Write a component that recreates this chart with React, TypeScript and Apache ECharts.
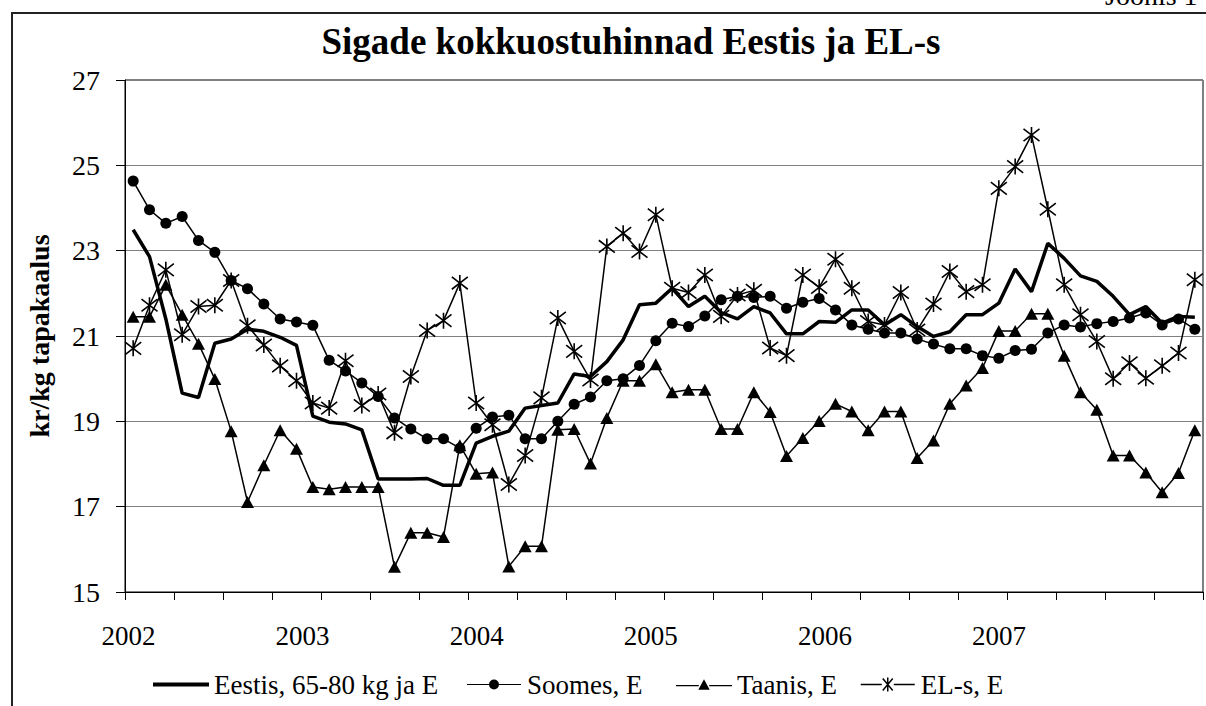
import React, { useEffect, useRef } from "react";
import * as echarts from "echarts";

const monthNames = ["01", "02", "03", "04", "05", "06", "07", "08", "09", "10", "11", "12"];
const years = [2002, 2003, 2004, 2005, 2006, 2007];
const categories = years.flatMap((y) => monthNames.map((m) => `${y}-${m}`)).slice(0, 66);

const yTicks = [15, 17, 19, 21, 23, 25, 27];

const eestis = [23.49, 22.86, 21.4, 19.66, 19.56, 20.83, 20.93, 21.16, 21.11, 20.97, 20.78, 19.12, 18.98, 18.94, 18.8, 17.65, 17.65, 17.65, 17.66, 17.5, 17.5, 18.49, 18.65, 18.77, 19.31, 19.37, 19.43, 20.11, 20.05, 20.4, 20.91, 21.73, 21.77, 22.12, 21.69, 21.93, 21.55, 21.4, 21.69, 21.54, 21.05, 21.05, 21.34, 21.32, 21.61, 21.61, 21.26, 21.5, 21.22, 20.99, 21.1, 21.5, 21.5, 21.77, 22.57, 22.04, 23.17, 22.82, 22.41, 22.28, 21.93, 21.5, 21.69, 21.3, 21.46, 21.44];
const soomes = [24.63, 23.96, 23.64, 23.8, 23.24, 22.96, 22.3, 22.11, 21.75, 21.4, 21.33, 21.25, 20.43, 20.18, 19.9, 19.58, 19.08, 18.82, 18.59, 18.59, 18.37, 18.84, 19.1, 19.14, 18.59, 18.59, 19.0, 19.4, 19.57, 19.95, 20.0, 20.31, 20.89, 21.3, 21.22, 21.47, 21.85, 21.93, 21.9, 21.93, 21.65, 21.79, 21.88, 21.61, 21.26, 21.16, 21.07, 21.07, 20.93, 20.81, 20.7, 20.7, 20.54, 20.48, 20.66, 20.69, 21.07, 21.26, 21.21, 21.29, 21.34, 21.42, 21.54, 21.26, 21.4, 21.16];
const taanis = [21.45, 21.45, 22.2, 21.5, 20.82, 19.99, 18.77, 17.11, 17.97, 18.79, 18.36, 17.46, 17.41, 17.46, 17.46, 17.46, 15.59, 16.39, 16.39, 16.29, 18.44, 17.77, 17.8, 15.6, 16.07, 16.07, 18.8, 18.82, 18.01, 19.08, 19.95, 19.95, 20.34, 19.68, 19.74, 19.74, 18.82, 18.82, 19.68, 19.22, 18.19, 18.61, 19.01, 19.41, 19.23, 18.79, 19.23, 19.23, 18.14, 18.55, 19.41, 19.84, 20.25, 21.12, 21.12, 21.52, 21.52, 20.54, 19.68, 19.27, 18.2, 18.2, 17.8, 17.34, 17.79, 18.79];
const els = [20.71, 21.72, 22.55, 21.03, 21.69, 21.72, 22.3, 21.24, 20.79, 20.3, 19.95, 19.43, 19.31, 20.42, 19.37, 19.64, 18.73, 20.05, 21.13, 21.36, 22.24, 19.43, 18.92, 17.52, 18.2, 19.55, 21.42, 20.64, 19.97, 23.1, 23.41, 22.98, 23.84, 22.12, 22.02, 22.43, 21.46, 21.96, 22.07, 20.72, 20.54, 22.43, 22.14, 22.8, 22.12, 21.34, 21.26, 22.02, 21.14, 21.75, 22.51, 22.04, 22.2, 24.46, 24.97, 25.71, 23.97, 22.2, 21.5, 20.87, 20.0, 20.37, 20.01, 20.3, 20.6, 22.32];

const seriesNames = ["Eestis, 65-80 kg ja E", "Soomes, E", "Taanis, E", "EL-s, E"];
const titleText = "Sigade kokkuostuhinnad Eestis ja EL-s";
const yName = "kr/kg tapakaalus";
const cornerText = "Joonis 1";

const FONT = "Liberation Serif";
const STAR = "path://M0,0L10,10M10,0L0,10M5,-1.5L5,11.5";
const STAR_ICON = "path://M0,6L21,6M22,0L32,12M32,0L22,12M27,-1L27,13M33,6L54,6";
const CIRCLE_ICON = "path://M0,4.4L22,4.4L22,5.6L0,5.6ZM32,4.4L54,4.4L54,5.6L32,5.6ZM22,5A5,5,0,1,0,32,5A5,5,0,1,0,22,5Z";
const TRI_ICON = "path://M0,5.4L22,5.4L22,6.6L0,6.6ZM32,5.4L54,5.4L54,6.6L32,6.6ZM21.5,10L27,0L32.5,10Z";

export default function App() {
  const ref = useRef<HTMLDivElement>(null);
  useEffect(() => {
    document.body.style.margin = "0";
    if (!ref.current) return;
    const chart = echarts.init(ref.current, undefined, { renderer: "svg" });
    const gridLeft = 125;
    const gridWidth = 1078;
    const pxPerYear = 174.1;
    const yearMin = 2002 - 3.5 / pxPerYear;
    const yearMax = yearMin + gridWidth / pxPerYear;
    const legendLefts = [153, 467, 676, 860];
    const legendIcons = ["rect", CIRCLE_ICON, TRI_ICON, STAR_ICON];
    const legendHeights = [4, 10, 12, 14];
    chart.setOption({
      animation: false,
      backgroundColor: "#fff",
      textStyle: { fontFamily: FONT },
      title: {
        text: titleText,
        left: 631,
        textAlign: "center",
        top: 23,
        padding: 0,
        textStyle: { fontFamily: FONT, fontWeight: "bold", fontSize: 37, color: "#000" },
      },
      legend: seriesNames.map((n, i) => ({
        data: [{ name: n, icon: legendIcons[i] }],
        left: legendLefts[i],
        top: 671,
        padding: 0,
        itemWidth: 56,
        itemHeight: legendHeights[i],
        itemGap: 4,
        itemStyle: { color: "#000", borderWidth: i === 3 ? 1.5 : 0, borderColor: "#000" },
        lineStyle: { width: 0 },
        textStyle: { fontFamily: FONT, fontSize: 27, color: "#000" },
      })),
      grid: { left: gridLeft, top: 80, width: gridWidth, height: 512, show: true, borderColor: "#000", borderWidth: 1, outerBoundsMode: "none" },
      xAxis: [
        {
          type: "category",
          data: categories,
          boundaryGap: true,
          axisLine: { lineStyle: { color: "#000", width: 1 } },
          axisTick: { show: true, interval: 2, length: 8, lineStyle: { color: "#000" } },
          axisLabel: { show: false },
          splitLine: { show: false },
        },
        {
          type: "value",
          position: "bottom",
          min: yearMin,
          max: yearMax,
          axisLine: { show: false },
          axisTick: { show: false },
          splitLine: { show: false },
          axisLabel: {
            customValues: years,
            margin: 30,
            fontFamily: FONT,
            fontSize: 27,
            color: "#000",
            formatter: (v: number) => (years.includes(Math.round(v)) && Math.abs(v - Math.round(v)) < 1e-6 ? String(Math.round(v)) : ""),
          },
        },
      ],
      yAxis: {
        type: "value",
        min: yTicks[0],
        max: yTicks[yTicks.length - 1],
        interval: 2,
        name: yName,
        nameLocation: "middle",
        nameGap: 72,
        nameTextStyle: { fontFamily: FONT, fontWeight: "bold", fontSize: 28, color: "#000" },
        axisLine: { show: true, lineStyle: { color: "#000", width: 1 } },
        axisTick: { show: true, length: 9, lineStyle: { color: "#000" } },
        axisLabel: { margin: 25, fontFamily: FONT, fontSize: 28, color: "#000" },
        splitLine: { show: true, lineStyle: { color: "#808080", width: 1 } },
      },
      series: [
        {
          name: seriesNames[0],
          type: "line",
          data: eestis,
          symbol: "none",
          lineStyle: { color: "#000", width: 3.5 },
          itemStyle: { color: "#000" },
          z: 5,
        },
        {
          name: seriesNames[1],
          type: "line",
          data: soomes,
          symbol: "circle",
          symbolSize: 11,
          showAllSymbol: true,
          lineStyle: { color: "#000", width: 1.5 },
          itemStyle: { color: "#000" },
        },
        {
          name: seriesNames[2],
          type: "line",
          data: taanis,
          symbol: "triangle",
          symbolSize: [13, 12],
          showAllSymbol: true,
          lineStyle: { color: "#000", width: 1.5 },
          itemStyle: { color: "#000" },
        },
        {
          name: seriesNames[3],
          type: "line",
          data: els,
          symbol: STAR,
          symbolSize: 16,
          showAllSymbol: true,
          lineStyle: { color: "#000", width: 1.5 },
          itemStyle: { color: "#000", borderColor: "#000", borderWidth: 1.6 },
        },
      ],
      graphic: [
        {
          type: "rect",
          shape: { x: 12, y: 13, width: 1210, height: 710 },
          style: { fill: "none", stroke: "#222", lineWidth: 2 },
          silent: true,
        },
        {
          type: "text",
          x: 1105,
          y: 9,
          style: { text: cornerText, fontFamily: FONT, fontSize: 28, fill: "#000", verticalAlign: "bottom" },
          silent: true,
        },
      ],
    });
    return () => chart.dispose();
  }, []);
  return <div ref={ref} style={{ width: 1206, height: 706 }} />;
}
